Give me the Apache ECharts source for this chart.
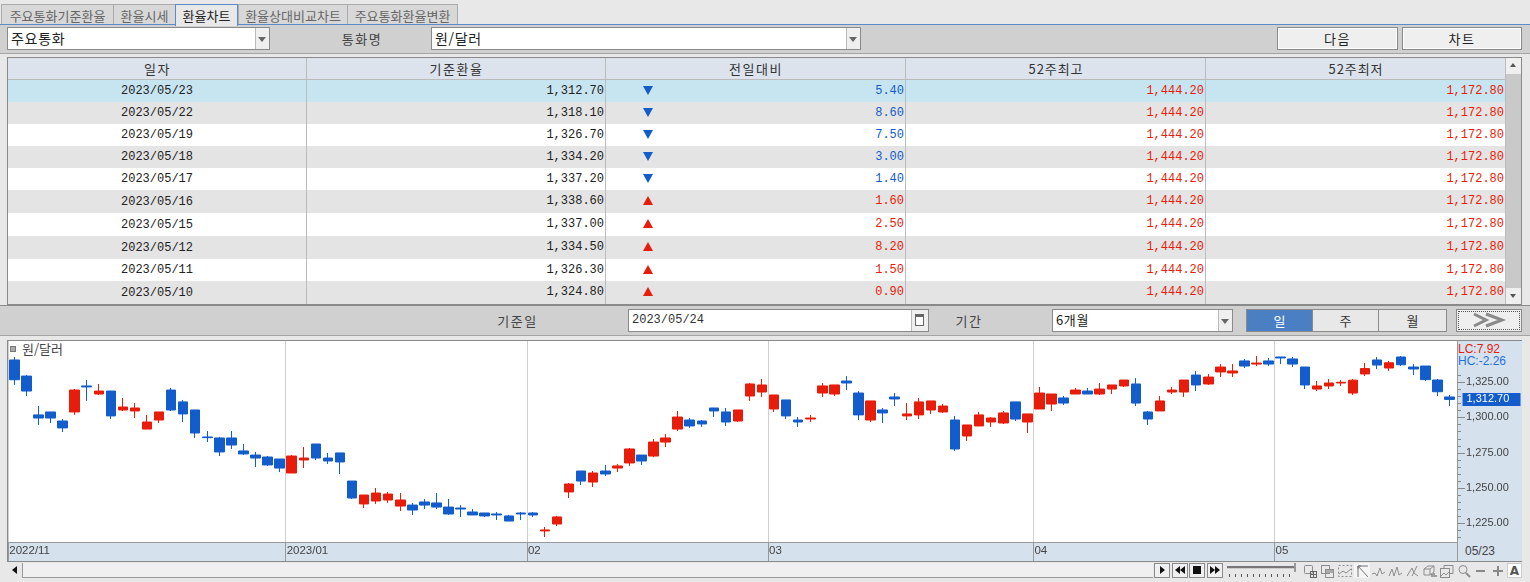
<!DOCTYPE html>
<html lang="ko"><head><meta charset="utf-8">
<script src="https://cdn.jsdelivr.net/npm/echarts@6/dist/echarts.min.js"></script>
<style>
html,body{margin:0;padding:0;width:1530px;height:582px;overflow:hidden;background:#e8e8e8}
#ui{position:absolute;left:0;top:0;width:1530px;height:582px;font:13px 'Noto Sans CJK KR',sans-serif;color:#333}
#ui div{position:absolute;box-sizing:border-box;white-space:nowrap}
#ui svg{position:absolute;left:0;top:0;overflow:visible}
#c{position:absolute;left:0;top:0;width:1530px;height:582px}
.ctr{display:flex;align-items:center;justify-content:center}
#ui .num{font-family:'Liberation Mono','Noto Sans CJK KR',monospace;font-size:12px;letter-spacing:0}
</style></head><body>
<div id="ui"></div><div id="c"></div>
<script>
// ---------- data ----------
const tabs = ['주요통화기준환율','환율시세','환율차트','환율상대비교차트','주요통화환율변환'];
const tableHeaders = ['일자','기준환율','전일대비','52주최고','52주최저'];
const tableDates = ['2023/05/23','2023/05/22','2023/05/19','2023/05/18','2023/05/17','2023/05/16','2023/05/15','2023/05/12','2023/05/11','2023/05/10'];
const tableRates = ['1,312.70','1,318.10','1,326.70','1,334.20','1,337.20','1,338.60','1,337.00','1,334.50','1,326.30','1,324.80'];
const tableChanges = ['5.40','8.60','7.50','3.00','1.40','1.60','2.50','8.20','1.50','0.90'];
const tableDirs = [-1,-1,-1,-1,-1,1,1,1,1,1];
const high52 = '1,444.20';
const low52 = '1,172.80';
const yMajorTicks = [1225,1250,1275,1300,1325];
const yMinorTicks = [1215,1220,1230,1235,1240,1245,1255,1260,1265,1270,1280,1285,1290,1295,1305,1310,1315,1320,1330];
const monthStarts = [0,23,43,63,85,105];
const monthLabels = ['2022/11','2023/01','02','03','04','05'];
const lastPrice = 1312.7;
// open, close, low, high
const candles = [
[1340.6,1326.6,1322.9,1342.7],[1329.2,1318.6,1315.1,1329.9],[1301.7,1299.5,1294.6,1308.0],[1303.8,1299.5,1296.0,1303.8],[1297.4,1292.5,1289.6,1298.8],
[1303.8,1319.3,1301.7,1320.0],[1322.2,1321.5,1311.6,1326.4],[1316.5,1318.6,1315.8,1323.6],[1318.6,1301.0,1298.8,1318.6],[1305.2,1307.3,1304.5,1313.7],
[1304.5,1306.6,1299.5,1310.1],[1291.7,1296.7,1291.7,1301.7],[1298.1,1303.8,1296.0,1303.8],[1319.3,1305.2,1304.5,1320.8],[1310.9,1302.4,1296.7,1312.3],
[1305.2,1288.9,1285.4,1305.2],[1286.1,1285.6,1282.5,1290.3],[1285.4,1275.5,1272.6,1286.1],[1285.4,1280.4,1277.6,1290.3],[1276.2,1274.1,1273.3,1281.1],
[1273.3,1271.2,1264.8,1275.5],[1271.9,1266.3,1265.6,1272.6],[1270.5,1264.1,1261.3,1270.5],[1260.6,1272.6,1260.6,1273.3],[1269.8,1271.2,1264.1,1279.0],
[1281.1,1271.2,1269.8,1281.1],[1271.2,1269.1,1267.0,1274.8],[1274.8,1268.4,1259.9,1274.8],[1254.9,1242.9,1242.2,1254.9],[1238.7,1245.0,1235.8,1245.0],
[1240.8,1246.4,1238.7,1250.0],[1241.5,1245.7,1239.4,1247.2],[1237.2,1241.5,1233.7,1246.4],[1237.9,1234.4,1230.9,1239.4],[1240.1,1237.9,1235.1,1242.2],
[1239.4,1236.5,1235.1,1246.4],[1236.5,1231.6,1230.9,1242.2],[1235.8,1235.1,1229.5,1237.9],[1233.0,1230.9,1230.9,1235.1],[1232.3,1230.2,1229.5,1232.3],
[1231.6,1230.9,1227.3,1233.0],[1230.2,1226.6,1226.6,1230.9],[1232.3,1231.6,1227.3,1233.0],[1232.3,1230.9,1229.5,1233.0],[1219.6,1220.3,1215.3,1222.4],
[1224.5,1229.5,1223.1,1230.2],[1247.2,1252.8,1242.9,1253.5],[1262.0,1254.9,1252.1,1262.0],[1254.2,1260.6,1250.7,1262.0],[1262.0,1259.9,1258.5,1266.3],
[1264.1,1265.6,1261.3,1267.0],[1267.7,1277.6,1265.6,1278.3],[1273.3,1269.1,1266.3,1273.3],[1272.6,1282.5,1271.9,1284.7],[1282.5,1285.4,1279.0,1288.2],
[1291.7,1300.2,1290.3,1304.5],[1298.1,1293.9,1292.5,1299.5],[1297.4,1295.3,1293.2,1298.1],[1306.6,1304.5,1300.2,1306.6],[1303.8,1296.7,1293.9,1306.6],
[1297.4,1305.2,1296.7,1305.2],[1315.1,1323.6,1311.6,1324.3],[1317.9,1322.9,1314.4,1327.1],[1305.9,1315.8,1303.8,1315.8],[1312.3,1301.0,1298.8,1312.3],
[1298.1,1296.7,1293.2,1300.2],[1298.8,1299.5,1296.7,1301.7],[1317.2,1322.2,1314.4,1324.3],[1316.5,1322.9,1315.1,1322.9],[1325.7,1324.3,1319.3,1329.2],
[1317.2,1301.7,1298.1,1318.6],[1298.1,1311.6,1296.7,1311.6],[1305.2,1303.1,1296.0,1306.6],[1314.4,1313.0,1308.0,1317.2],[1301.0,1302.4,1298.1,1310.1],
[1301.7,1310.9,1298.8,1313.7],[1305.2,1311.6,1302.4,1311.6],[1303.8,1308.0,1303.1,1309.4],[1298.1,1277.6,1276.2,1301.0],[1286.8,1294.6,1283.2,1294.6],
[1293.9,1301.7,1293.9,1303.8],[1296.7,1299.5,1293.2,1300.2],[1296.0,1303.1,1295.3,1304.5],[1310.9,1298.8,1297.4,1310.9],[1296.7,1302.4,1288.9,1302.4],
[1305.9,1317.2,1305.9,1321.5],[1309.4,1316.5,1304.5,1316.5],[1313.7,1310.1,1308.7,1315.1],[1316.5,1319.3,1316.5,1320.8],[1318.6,1316.5,1316.5,1320.8],
[1316.5,1320.0,1315.8,1324.3],[1320.0,1322.9,1316.5,1322.9],[1322.2,1326.4,1321.5,1326.4],[1323.6,1310.1,1308.0,1327.8],[1303.8,1298.8,1294.6,1304.5],
[1304.5,1311.6,1304.5,1315.1],[1317.9,1319.3,1316.5,1321.5],[1317.9,1326.4,1314.4,1326.4],[1329.9,1322.9,1318.6,1332.8],[1323.6,1328.5,1322.9,1330.7],
[1332.1,1335.6,1328.5,1337.7],[1331.4,1332.8,1328.5,1337.7],[1339.9,1336.3,1334.9,1341.3],[1337.7,1338.4,1336.3,1343.4],[1339.9,1337.7,1336.3,1342.0],
[1342.7,1342.0,1337.7,1342.7],[1341.3,1337.7,1335.6,1342.7],[1335.6,1322.9,1320.0,1335.6],[1320.0,1322.2,1318.6,1325.7],[1322.2,1324.3,1320.0,1327.1],
[1324.3,1324.8,1322.2,1326.4],[1317.2,1326.3,1315.8,1327.1],[1330.7,1334.5,1329.2,1338.4],[1340.6,1337.0,1334.2,1342.7],[1334.9,1338.6,1332.8,1339.9],
[1342.7,1337.2,1336.3,1343.4],[1335.6,1334.2,1329.9,1337.7],[1336.3,1326.7,1325.7,1336.3],[1326.4,1318.1,1315.1,1327.1],[1314.4,1312.7,1308.0,1315.8]
];

// ---------- surrounding window ----------
const RED='#e81c0a', BLUE='#125ccc', ui=document.getElementById('ui');
function box(x,y,w,h,css,text,cls){const d=document.createElement('div');
  d.style.cssText=`left:${x}px;top:${y}px;width:${w}px;height:${h}px;${css||''}`;
  if(cls)d.className=cls; if(text!==undefined)d.textContent=text; ui.appendChild(d); return d;}
function center(x,y,w,h,css,text){return box(x,y,w,h,css,text,'ctr');}
function tri(x,y,dir,color,w,h){w=w||8;h=h||5;box(x,y,0,0,`border-left:${w/2}px solid transparent;border-right:${w/2}px solid transparent;${dir>0?'border-bottom':'border-top'}:${h}px solid ${color}`);}
function svg(x,y,inner){const d=box(x,y,1,1,'');d.innerHTML=`<svg width="20" height="16" fill="none" stroke="#8c8c8c" stroke-width="1">${inner}</svg>`;}
function combo(x,y,w,h,text,css){box(x,y,w,h,'background:#fff;border:1px solid #8a8a8a;line-height:'+(h-3)+'px;padding-left:3px;color:#222;font-size:14px;letter-spacing:.7px;'+(css||''),text);
  box(x+w-15,y+1,14,h-2,'background:#efefef;border-left:1px solid #bbb');tri(x+w-12,y+10,-1,'#666');}
function button(x,y,w,h,text){center(x,y,w,h,'background:#efefef;border:1px solid #8a8a8a;outline:1px solid #fff;outline-offset:-2px;color:#222;letter-spacing:1.5px',text);}
const LS='letter-spacing:1.5px;';

// tabs
const tabX=[1,113,175,238,347,457];
tabs.forEach((t,i)=>{const a=i===2;
  center(tabX[i],4,tabX[i+1]-tabX[i]+(a?0:1),a?22:21,
    a?'background:#e8e8e8;border:1px solid #5b8bc9;border-bottom:none;color:#222;z-index:2'
     :'background:#d8d8d8;border:1px solid #aaa;border-bottom:none;color:#666',t);});
box(0,24,1530,1,'background:#5b8bc9');
// control bar
box(0,25,1530,29,'background:#d0d0d0;border-bottom:1px solid #a4a4a4');
combo(7,27,263,23,'주요통화');
center(342,27,40,23,'color:#444;'+LS,'통화명');
combo(431,27,430,23,'원/달러');
button(1277,27,121,23,'다음');button(1402,27,120,23,'차트');

// table
box(7,57,1515,248,'background:#fff;border:1px solid #8a8a8a');
const colX=[8,307,606,906,1206,1506], rowY=[80,102,124,146,168,190,213,236,259,281,304];
box(8,58,1498,22,'background:#dce3ed;border-bottom:1px solid #bbb');
tableHeaders.forEach((h,i)=>center(colX[i],58,colX[i+1]-colX[i],21,'color:#333;letter-spacing:'+(i>2?'.9px':'1.5px'),h));
tableDates.forEach((d,r)=>{
  const y=rowY[r],h=rowY[r+1]-y,bg=r===0?'#c7e5f1':(r%2?'#e4e4e4':'#fff');
  box(8,y,1498,h,'background:'+bg);
  const dc=tableDirs[r]>0?RED:BLUE;
  center(colX[0],y,298,h,'color:#222',d).classList.add('num');
  box(colX[1],y,297,h,`text-align:right;line-height:${h}px;color:#222`,tableRates[r],'num');
  tri(643,y+6,tableDirs[r],dc,10,9);
  box(colX[2],y,298,h,`text-align:right;line-height:${h}px;color:${dc}`,tableChanges[r],'num');
  box(colX[3],y,298,h,`text-align:right;line-height:${h}px;color:${RED}`,high52,'num');
  box(colX[4],y,298,h,`text-align:right;line-height:${h}px;color:${RED}`,low52,'num');
});
colX.slice(1).forEach(x=>box(x-1,58,1,246,'background:#bcbcbc'));
// table scrollbar
box(1506,58,15,246,'background:#c9c9c9');
box(1506,58,15,16,'background:#efefef');box(1506,288,15,16,'background:#efefef');
tri(1510,63,1,'#555',7,4);tri(1510,294,-1,'#555',7,4);

// date bar
box(0,305,1530,31,'background:#d0d0d0;border-top:1px solid #8a8a8a;border-bottom:1px solid #a4a4a4');
center(496,309,43,23,'color:#444;'+LS,'기준일');
box(628,309,301,23,'background:#fff;border:1px solid #8a8a8a;line-height:21px;padding-left:3px','2023/05/24','num');
box(911,310,17,21,'background:#efefef;border-left:1px solid #bbb');box(915,314,9,12,'border:1px solid #666;border-top:3px solid #666;background:#fff');
center(955,309,28,23,'color:#444;'+LS,'기간');
combo(1052,309,181,23,'6개월','font-size:13px;letter-spacing:.6px;');
center(1246,309,67,23,'background:#4a7fc4;color:#fff;border:1px solid #8a8a8a','일');
center(1312,309,67,23,'background:#e8e8e8;color:#333;border:1px solid #8a8a8a','주');
center(1378,309,69,23,'background:#e8e8e8;color:#333;border:1px solid #8a8a8a','월');
box(1456,309,66,23,'background:#efefef;border:1px solid #8a8a8a;outline:1px dotted #555;outline-offset:-3px');
svg(1456,309,'<g stroke="#8a8a8a" stroke-width="3"><polyline points="18,5 30,11 18,17"/><polyline points="30,5 46,11 30,17"/></g>');

// chart frame
box(7,340,1515,222,'background:#fff;border:1px solid #8a8a8a');
box(8,542,1514,19,'background:#d6e1ee;border-top:1px solid #999');
box(1457,341,65,220,'background:#d6e1ee;border-left:1px solid #999');
box(10,346,6,6,'background:#aaa;border:1px solid #777');
box(22,342,60,14,'line-height:14px;color:#444','원/달러');
const F="'Liberation Sans','Noto Sans CJK KR',sans-serif";
box(1458,342,60,13,`line-height:13px;color:${RED};font:12px ${F}`,'LC:7.92');
box(1458,354,60,13,`line-height:13px;color:#1f72dc;font:12px ${F}`,'HC:-2.26');
box(1465,544,50,16,`line-height:16px;color:#444;font:12px ${F}`,'05/23');

// bottom scrollbar and toolbar
box(0,562,1530,20,'background:#e8e8e8');
box(8,563,1145,15,'background:#f0f0f0;border-bottom:1px solid #999');
box(8,563,15,15,'background:#e8e8e8;border-right:1px solid #999');
box(12,566,0,0,'border-top:4px solid transparent;border-bottom:4px solid transparent;border-right:5px solid #111');
[1154,1172,1189,1207].forEach((x,i)=>{box(x,563,16,15,'background:#f0f0f0;border:1px solid #8a8a8a');
  const tr=(px,rt)=>box(px,566,0,0,`border-top:4px solid transparent;border-bottom:4px solid transparent;${rt?'border-left':'border-right'}:5px solid #111`);
  if(i===0)tr(x+6,true);
  if(i===1){tr(x+3,false);tr(x+8,false);}
  if(i===2)box(x+4,566,8,8,'background:#111');
  if(i===3){tr(x+3,true);tr(x+8,true);}});
box(1227,566,68,2,'background:#777;box-shadow:0 1px 0 #ccc');
box(1294,563,2,9,'background:#999');
box(1229,574,66,3,'background-image:repeating-linear-gradient(90deg,#555 0 1px,transparent 1px 6px)');
svg(1304,565,'<rect x=".5" y=".5" width="8" height="8" rx="1"/><rect x="6.5" y="6.5" width="6" height="6" stroke="#666"/><path d="M9.5 6.5v6M6.5 9.5h6" stroke="#666"/>');
svg(1321,565,'<rect x=".5" y=".5" width="8" height="8"/><rect x="4.5" y="4.5" width="8" height="8"/><path d="M5 6.5h7" stroke="#aaa" stroke-width="3"/>');
svg(1338,565,'<rect x=".5" y=".5" width="13" height="11" stroke-dasharray="2 2"/><path d="M1 9l4-3 3 2 5-4"/>');
box(1354,563,16,15,'background:#f5f5f5');
svg(1357,565,'<path d="M1 12V1h10M1 1l10 11M1 1h3M1 1v3" stroke="#777"/>');
svg(1372,565,'<path d="M0 9l3-1 2 3 3-8 2 6 3-2"/>');
svg(1389,565,'<path d="M0 11l3-7 2 7 3-9 2 8 3-2"/>');
svg(1407,565,'<path d="M0 11l5-8 2 5 4 3M5 11l5-10"/>');
svg(1423,565,'<path d="M1 4l4-3h6v6l-4 3H1zM1 4h6v6M7 4l4-3"/><path d="M9 12v-3M11 12v-4M13 12v-2" stroke="#555"/>');
svg(1440,565,'<rect x=".5" y="3.5" width="9" height="9"/><path d="M4 3V.5h9v8h-3M1 11l3-3 2 2 3-3"/>');
svg(1458,565,'<circle cx="5" cy="4.5" r="4"/><path d="M8 8l4 4" stroke-width="2"/>');
box(1476,570,9,2,'background:#888');
box(1493,570,10,2,'background:#888');box(1497,566,2,10,'background:#888');
center(1507,563,15,15,'background:#fff;border:1px solid #ccc;color:#555;font:bold 12px "DejaVu Sans"','A');

// ---------- chart ----------
const chart=echarts.init(document.getElementById('c'),null,{renderer:'canvas'});
const TOP=341,BOT=542,LEFT=8.3,RIGHT=1455.5;
const yMin=1358.26-0.2359*621, yMax=1358.26-0.2359*18;
chart.setOption({
  animation:false,backgroundColor:'transparent',
  grid:{left:LEFT,top:TOP,width:RIGHT-LEFT,height:BOT-TOP,containLabel:false},
  xAxis:[
    {type:'category',data:candles.map((_,i)=>i),boundaryGap:true,axisLine:{show:false,onZero:false},axisTick:{show:false},axisLabel:{show:false},splitLine:{show:false}},
    {type:'value',min:0,max:120,position:'bottom',axisLine:{show:false,onZero:false},
     axisTick:{show:true,customValues:monthStarts,length:19,lineStyle:{color:'#999',width:1}},
     splitLine:{show:true,lineStyle:{color:'#cfcfcf',width:1}},
     axisLabel:{show:true,customValues:monthStarts,align:'left',margin:3,verticalAlign:'top',padding:[0,0,0,1],
       color:'#444',fontSize:11.5,fontFamily:F,
       formatter:v=>monthLabels[monthStarts.indexOf(v)]}}
  ],
  yAxis:[
    {type:'value',position:'right',offset:1.5,min:yMin,max:yMax,splitLine:{show:false},
     axisLine:{show:false,onZero:false},axisTick:{show:false},
     axisLabel:{show:true,customValues:yMajorTicks,margin:9,align:'left',color:'#444',fontSize:11,fontFamily:F,padding:[0,0,4,0],
       formatter:v=>v.toLocaleString('en-US',{minimumFractionDigits:2,maximumFractionDigits:2})}}
  ],
  series:[{type:'candlestick',xAxisIndex:0,yAxisIndex:0,data:candles,barWidth:10,
    itemStyle:{color:RED,color0:BLUE,borderColor:RED,borderColor0:BLUE,borderWidth:1}}]
});
const yPx=v=>chart.convertToPixel({yAxisIndex:0},v);
const tick=(v,len)=>{const y=Math.round(yPx(v))+0.5;
  return {type:'line',shape:{x1:1458,y1:y,x2:1458+len,y2:y},style:{stroke:'#888',lineWidth:1},z:20};};
const py=yPx(lastPrice);
chart.setOption({graphic:[
  ...yMajorTicks.map(v=>tick(v,7)),
  ...yMinorTicks.map(v=>tick(v,3)),
  {type:'rect',shape:{x:1462.5,y:py-6.5,width:58,height:13},style:{fill:BLUE},z:20},
  {type:'text',style:{x:1466.5,y:py,text:'1,312.70',fill:'#fff',font:`11px ${F}`,verticalAlign:'middle',textAlign:'left'},z:21}
]});
</script>
</body></html>
